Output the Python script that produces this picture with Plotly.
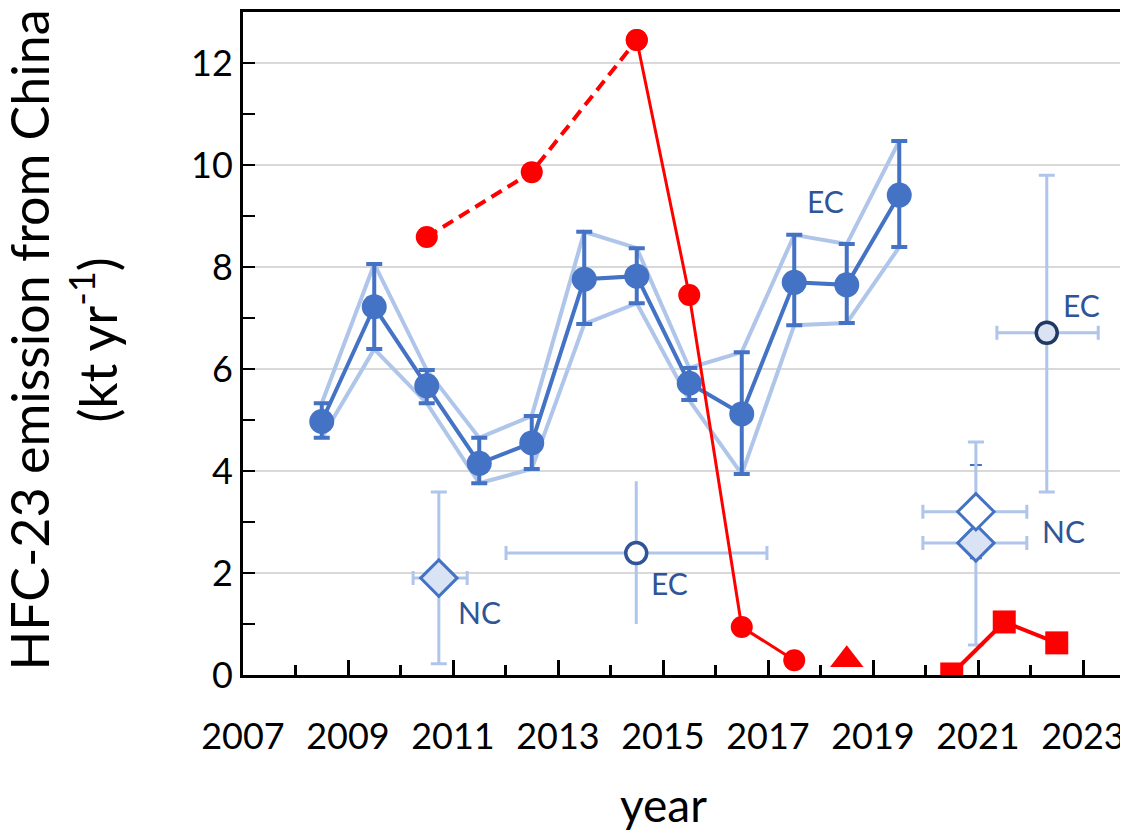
import plotly.graph_objects as go
import numpy as np

# ---------------- data ----------------
blue_years = [2008.5, 2009.5, 2010.5, 2011.5, 2012.5, 2013.5, 2014.5, 2015.5, 2016.5, 2017.5, 2018.5, 2019.5]
blue_val = [4.97, 7.22, 5.67, 4.15, 4.55, 7.76, 7.82, 5.72, 5.12, 7.70, 7.65, 9.41]
blue_hi = [5.33, 8.06, 5.98, 4.65, 5.08, 8.69, 8.37, 6.02, 6.33, 8.63, 8.45, 10.47]
blue_lo = [4.65, 6.39, 5.33, 3.76, 4.04, 6.88, 7.29, 5.39, 3.94, 6.86, 6.90, 8.39]

red_dash_years = [2010.5, 2012.5, 2014.5]
red_dash_val = [8.59, 9.86, 12.45]
red_solid_years = [2014.5, 2015.5, 2016.5, 2017.5]
red_solid_val = [12.45, 7.45, 0.94, 0.29]
red_tri_years = [2018.5]
red_tri_val = [0.30]
red_sq_years = [2020.5, 2021.5, 2022.5]
red_sq_val = [0.02, 1.04, 0.63]

# NC 2010
nc1_x, nc1_y = 2010.73, 1.90
nc1_ylo, nc1_yhi = 0.22, 3.59
nc1_xlo, nc1_xhi = 2010.24, 2011.27
# EC 2014
ec1_x, ec1_y = 2014.49, 2.39
ec1_ylo, ec1_yhi = 1.00, 3.80
ec1_xlo, ec1_xhi = 2012.01, 2016.98
# EC 2022
ec2_x, ec2_y = 2022.31, 6.71
ec2_ylo, ec2_yhi = 3.59, 9.80
ec2_xlo, ec2_xhi = 2021.36, 2023.29
# NC 2021 (two estimates)
nc2_x = 2020.96
nc2a_y, nc2a_ylo, nc2a_yhi = 3.20, 2.29, 4.12
nc2b_y, nc2b_ylo, nc2b_yhi = 2.59, 0.59, 4.57
nc2_xlo, nc2_xhi = 2019.95, 2021.93

labels = [
    ("NC", 2011.5, 1.24),
    ("EC", 2015.13, 1.80),
    ("EC", 2018.09, 9.29),
    ("EC", 2022.98, 7.25),
    ("NC", 2022.62, 2.82),
]

# ---------------- styles ----------------
BLUE = "#4472C4"
LIGHT = "#AFC5E9"
FILL = "#DAE3F3"
DARK = "#2F5597"
DARKER = "#203864"
RED = "#FF0000"
FONT = "Lato"

fig = go.Figure()

# light envelope lines
fig.add_trace(go.Scatter(x=blue_years, y=blue_hi, mode="lines",
                         line=dict(color=LIGHT, width=4), showlegend=False))
fig.add_trace(go.Scatter(x=blue_years, y=blue_lo, mode="lines",
                         line=dict(color=LIGHT, width=4), showlegend=False))


def pt(x, y, xlo, xhi, ylo, yhi, symbol, fill, outline, size, lw, ycol=LIGHT, ycap=8, xcap=7):
    fig.add_trace(go.Scatter(
        x=[x], y=[y], mode="markers",
        marker=dict(symbol=symbol, size=size, color=fill, line=dict(color=outline, width=lw)),
        error_y=dict(type="data", symmetric=False, array=[yhi - y], arrayminus=[y - ylo],
                     color=ycol, thickness=3, width=ycap),
        error_x=dict(type="data", symmetric=False, array=[xhi - x], arrayminus=[x - xlo],
                     color=LIGHT, thickness=3, width=xcap),
        showlegend=False))


# NC 2010
pt(nc1_x, nc1_y, nc1_xlo, nc1_xhi, nc1_ylo, nc1_yhi, "diamond", FILL, BLUE, 28, 3)
# EC 2014 (vertical bar without caps)
pt(ec1_x, ec1_y, ec1_xlo, ec1_xhi, ec1_ylo, ec1_yhi, "circle", "white", DARK, 21, 3.5, ycap=0)
# EC 2022
pt(ec2_x, ec2_y, ec2_xlo, ec2_xhi, ec2_ylo, ec2_yhi, "circle", FILL, DARKER, 21, 3.5)
# NC 2021 upper (dark small error bar drawn first)
fig.add_trace(go.Scatter(
    x=[nc2_x], y=[nc2a_y], mode="markers",
    marker=dict(symbol="diamond", size=1, color="rgba(0,0,0,0)"),
    error_y=dict(type="data", symmetric=False, array=[nc2a_yhi - nc2a_y], arrayminus=[nc2a_y - nc2a_ylo],
                 color=BLUE, thickness=2, width=6),
    showlegend=False))
pt(nc2_x, nc2b_y, nc2_xlo, nc2_xhi, nc2b_ylo, nc2b_yhi, "diamond", FILL, BLUE, 28, 3)
pt(nc2_x, nc2a_y, nc2_xlo, nc2_xhi, nc2a_y, nc2a_y, "diamond", "white", BLUE, 28, 3, ycap=0)

# main blue series
err_p = (np.array(blue_hi) - np.array(blue_val)).tolist()
err_m = (np.array(blue_val) - np.array(blue_lo)).tolist()
fig.add_trace(go.Scatter(
    x=blue_years, y=blue_val, mode="lines+markers",
    line=dict(color=BLUE, width=4),
    marker=dict(symbol="circle", size=25, color=BLUE),
    error_y=dict(type="data", symmetric=False, array=err_p, arrayminus=err_m,
                 color=BLUE, thickness=4, width=8),
    showlegend=False))

# red series
fig.add_trace(go.Scatter(x=red_dash_years, y=red_dash_val, mode="lines+markers",
                         line=dict(color=RED, width=4, dash="12px,7px"),
                         marker=dict(symbol="circle", size=22, color=RED), showlegend=False))
fig.add_trace(go.Scatter(x=red_solid_years, y=red_solid_val, mode="lines+markers",
                         line=dict(color=RED, width=3),
                         marker=dict(symbol="circle", size=22, color=RED), showlegend=False))
fig.add_trace(go.Scatter(x=red_tri_years, y=red_tri_val, mode="markers",
                         marker=dict(symbol="triangle-up", size=29, color=RED), showlegend=False))
fig.add_trace(go.Scatter(x=red_sq_years, y=red_sq_val, mode="lines+markers",
                         line=dict(color=RED, width=4),
                         marker=dict(symbol="square", size=23, color=RED), showlegend=False))

for txt, lx, ly in labels:
    fig.add_annotation(x=lx, y=ly, text=txt, showarrow=False,
                       font=dict(family=FONT, size=30, color=DARK),
                       xanchor="center", yanchor="middle")

# axis titles as annotations
fig.add_annotation(xref="paper", yref="paper", x=-0.203, y=0.505,
                   text="HFC-23 emission from China<br>(kt yr<sup>-1</sup>)",
                   textangle=-90, showarrow=False, xanchor="center", yanchor="middle",
                   font=dict(family=FONT, size=52, color="black"))
fig.add_annotation(xref="paper", yref="paper", x=0.4746, y=-0.196,
                   text="year", showarrow=False, xanchor="center", yanchor="middle",
                   font=dict(family=FONT, size=46, color="black"))

OFF = 8  # page body margin
W, H = 1128 - OFF, 831 - OFF
L, R, T = 243 - OFF, 0, 12 - OFF
B = H - T - 663
fig.update_layout(
    width=W, height=H,
    margin=dict(l=L, r=R, t=T, b=B),
    plot_bgcolor="white", paper_bgcolor="white",
    font=dict(family=FONT, color="black"),
    xaxis=dict(range=[2007, 2007 + (W - L) / 52.5], tick0=2007, dtick=2,
               ticks="inside", ticklen=15, tickwidth=3, tickcolor="black",
               minor=dict(dtick=1, tick0=2007, ticks="inside", ticklen=10, tickwidth=3, tickcolor="black"),
               showline=True, linecolor="black", linewidth=3, mirror=True,
               showgrid=False, zeroline=False,
               tickfont=dict(family=FONT, size=36, color="black"),
               ticklabelstandoff=28),
    yaxis=dict(range=[0, 663 / 51.0], tick0=0, dtick=2,
               ticks="inside", ticklen=12, tickwidth=2, tickcolor="black",
               minor=dict(dtick=1, tick0=0, ticks="inside", ticklen=12, tickwidth=2, tickcolor="black",
                          showgrid=False),
               showline=True, linecolor="black", linewidth=3,
               showgrid=True, gridcolor="#D9D9D9", gridwidth=2, zeroline=False,
               tickfont=dict(family=FONT, size=36, color="black")),
)

fig.write_html("out.html")
